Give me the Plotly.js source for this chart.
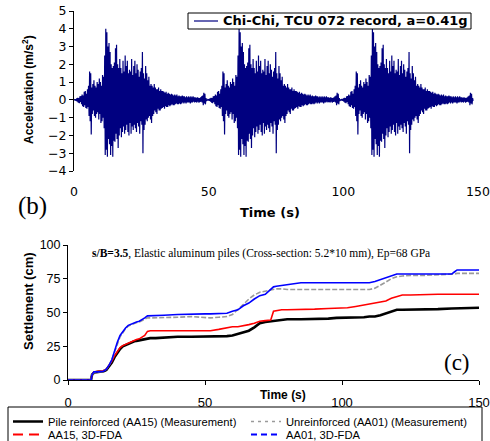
<!DOCTYPE html>
<html>
<head>
<meta charset="utf-8">
<script src="https://cdn.plot.ly/plotly-3.0.1.min.js"></script>
<style>html,body{margin:0;padding:0;background:#fff;overflow:hidden;}#wrap{width:490px;height:441px;overflow:hidden;position:relative;}#chart{width:490px;height:462px;}</style>
</head>
<body>
<div id="wrap"><div id="chart"></div></div>
<script>
// ---------- (b) acceleration record (one shaking event, sampled every 0.2 s) ----------
const recordDt = 0.2;
const eventStarts = [0, 49.5, 99];
const accelRecord = [
  0, 0.02, -0.03, 0.04, -0.05,
  0.08, -0.1, 0.12, -0.15, 0.1, -0.18, 0.2, -0.12, 0.22, -0.25,
  0.3, -0.35, 0.25, -0.4, 0.45, -0.3, 0.5, -0.45, 0.35, -0.5, 0.6, -0.4,
  0.8, -0.9, 1.6, -1.2, 1.5, -1.95, 0.7,
  -0.8, 0.9, -0.6, 1.1, -0.9, 0.8, -1.0, 0.7, -0.8, 1.0, -0.7,
  0.9, -1.1, 1.2, -0.8, 1.0, -1.3, 0.8, -1.2, 1.4, -1.0, 1.3, -1.6,
  2.5, -3.1, 4.0, -2.8, 3.8, -3.2, 3.0, -2.2,
  3.2, -2.5, 2.7, -3.1, 2.0, -2.6, 1.8, -3.2, 1.9, -2.3,
  2.1, -2.35, 2.9, -1.9, 3.1, -2.2, 2.0, -2.7, 1.8, -2.0,
  2.3, -1.6, 1.8, -2.1, 1.5, -1.8, 2.2, -1.5, 1.6, -1.9,
  2.5, -1.7, 1.9, -1.4, 2.2, -1.8, 1.5, -2.0, 1.7, -1.3,
  1.6, -1.9, 2.3, -1.5, 1.4, -1.7, 1.9, -1.4, 2.2, -1.6,
  1.5, -1.8, 2.0, -1.3, 1.7, -1.5, 1.3, -1.9, 1.6, -1.2,
  1.8, -1.4, 2.7, -3.0, 1.5, -1.7, 1.2, -1.4, 1.9, -1.1,
  1.5, -1.2, 1.1, -1.0, 1.3, -0.9, 0.8, -1.1, 0.9, -1.3,
  0.8, -0.9, 0.7, -0.8, 0.9, -0.6, 0.7, -0.7, 0.6, -0.8,
  0.6, -0.5, 0.7, -0.6, 0.5, -0.6, 0.6, -0.5, 0.5, -0.45,
  0.5, -0.4, 0.45, -0.5, 0.4, -0.35, 0.45, -0.4, 0.35, -0.4,
  0.4, -0.3, 0.35, -0.35, 0.3, -0.3, 0.35, -0.25, 0.3, -0.3,
  0.25, -0.3, 0.3, -0.25, 0.25, -0.2, 0.3, -0.25, 0.2, -0.25,
  0.25, -0.2, 0.2, -0.25, 0.2, -0.2, 0.25, -0.15, 0.2, -0.2,
  0.2, -0.15, 0.15, -0.2, 0.2, -0.15, 0.15, -0.15, 0.2, -0.15,
  0.15, -0.2, 0.2, -0.15, 0.15, -0.15, 0.2, -0.1, 0.15, -0.15,
  0.15, -0.12, 0.12, -0.15, 0.15, -0.1, 0.12, -0.15, 0.1, -0.12,
  0.15, -0.1, 0.2, -0.15, 0.25, -0.3, 0.4, -0.2, 0.35, -0.25,
  0.1, -0.05
];
const accelLabel = "Chi-Chi, TCU 072 record, a=0.41g";

// ---------- (c) settlement histories ----------
const settleTime = [0, 8.4, 8.8, 9.5, 11, 13, 14, 15, 16, 17, 18, 19, 20, 21, 22, 23, 24, 25, 26, 27, 28, 29, 30, 32, 35, 40, 45, 50, 52, 55, 57, 58, 60, 62, 64, 66, 68, 70, 72, 74, 75, 76, 78, 80, 85, 90, 95, 98, 100, 102, 105, 108, 110, 112, 114, 116, 118, 120, 122, 125, 130, 135, 140, 141, 142, 145, 150];
const aa15Meas = [0, 0, 4, 5.5, 6, 6.5, 7.5, 10, 13, 17, 20, 23, 25, 26, 27, 28, 28.5, 29, 29.5, 30, 30.5, 31, 31, 31, 31.5, 32, 32, 32, 32, 32.5, 32, 32.5, 33, 34, 35, 36.5, 39, 42, 43, 43.5, 44, 44, 44.5, 45, 45, 45, 45.5, 46, 46, 46, 46.5, 46.5, 47, 47, 48, 49.5, 51, 52, 52, 52, 52, 52.5, 53, 53, 53, 53, 53.5];
const aa15Fda  = [0, 0, 4, 6, 6.5, 7, 8, 11, 14, 18, 21, 24, 25.5, 26.5, 27.5, 28.5, 29, 30, 30.5, 31.5, 33, 36, 36.5, 36.5, 36.5, 36.5, 36.5, 36.5, 36.5, 37.5, 38.5, 39, 39.5, 39.5, 40, 41, 42, 43.5, 44, 44.5, 51, 51.5, 52, 52, 52, 52.5, 53, 53, 53, 53.5, 54.5, 55.5, 56, 57, 57.5, 58.5, 60.5, 62, 63, 63, 63.5, 63.5, 63.5, 63.5, 63.5, 63.5, 63.5];
const aa01Meas = [0, 0, 4, 5.5, 6, 6.5, 8, 11, 15, 21, 27, 32, 35, 38, 40, 41, 42, 42.5, 43, 44, 45.5, 46, 46, 46, 46, 46.5, 47, 46.5, 46, 46.5, 47, 47, 48.5, 52, 56, 60, 63, 65, 66, 67, 67, 67.5, 67.5, 67, 67, 67, 67, 67, 67, 67, 67, 67, 67, 68, 70, 72.5, 75, 76.5, 77, 77.5, 77.5, 78, 78, 78.5, 79, 79, 79];
const aa01Fda  = [0, 0, 4, 6, 6, 6.5, 8, 11, 15, 22, 28, 33, 36, 38.5, 40.5, 41.5, 42.5, 43, 43.5, 44.5, 46, 47.5, 47.5, 47.5, 48, 48.5, 49, 49, 49, 49, 49, 49.5, 51, 52, 55, 57, 60, 62.5, 63.5, 67, 69, 69.5, 70, 71, 72, 72, 72, 72, 72, 72, 72, 72, 72, 73, 74.5, 76, 77.5, 78.5, 78.5, 78.5, 78.5, 78.5, 78.5, 80, 81.5, 81.5, 81.5];
const settleNames = [
  "Pile reinforced (AA15) (Measurement)",
  "Unreinforced (AA01) (Measurement)",
  "AA15, 3D-FDA",
  "AA01, 3D-FDA"
];
const timeTicks = [0, 50, 100, 150];
const accelTicks = [-4, -3, -2, -1, 0, 1, 2, 3, 4, 5];
const settleTicks = [0, 25, 50, 75, 100];

// build the acceleration trace from the record and the event starts
const accX = [], accY = [];
eventStarts.forEach(s => {
  accelRecord.forEach((v, i) => { accX.push(s + i * recordDt); accY.push(v); });
});

const W = 490, HP = 462;   // drawing is taller than the 441 px window; the legend box runs off the bottom like the reference
const px = x => x / W;
const py = y => 1 - y / HP;
const SANS = "Liberation Sans, Arial, sans-serif";
const WIDE = "DejaVu Sans, sans-serif";
const SERIF = "Liberation Serif, Times New Roman, serif";
const NAVY = '#000080';

const traces = [
  {x: accX, y: accY, xaxis: 'x', yaxis: 'y', type: 'scatter', mode: 'lines',
   line: {color: NAVY, width: 1.2}, name: accelLabel, showlegend: false},
  // settlement curves (solid as drawn in the plot)
  {x: settleTime, y: aa15Meas, xaxis: 'x2', yaxis: 'y2', mode: 'lines', line: {color: '#000', width: 2.6}, showlegend: false},
  {x: settleTime, y: aa15Fda, xaxis: 'x2', yaxis: 'y2', mode: 'lines', line: {color: '#ff0000', width: 1.6}, showlegend: false},
  {x: settleTime, y: aa01Meas, xaxis: 'x2', yaxis: 'y2', mode: 'lines', line: {color: '#9a9a9a', width: 1.6, dash: '5px,2px'}, showlegend: false},
  {x: settleTime, y: aa01Fda, xaxis: 'x2', yaxis: 'y2', mode: 'lines', line: {color: '#0000ff', width: 1.6}, showlegend: false},
  // legend entries (two rows, one legend per row)
  {x: [null], y: [null], xaxis: 'x2', yaxis: 'y2', mode: 'lines', name: settleNames[0], legend: 'legend', line: {color: '#000', width: 2.5}},
  {x: [null], y: [null], xaxis: 'x2', yaxis: 'y2', mode: 'lines', name: settleNames[1], legend: 'legend', line: {color: '#9a9a9a', width: 1.5, dash: '3px,4px'}},
  {x: [null], y: [null], xaxis: 'x2', yaxis: 'y2', mode: 'lines', name: settleNames[2], legend: 'legend2', line: {color: '#ff0000', width: 2, dash: '10px,6px'}},
  {x: [null], y: [null], xaxis: 'x2', yaxis: 'y2', mode: 'lines', name: settleNames[3], legend: 'legend2', line: {color: '#0000ff', width: 2, dash: '6px,4px'}}
];

const ann = (text, x, y, opts) => Object.assign({text, x: px(x), y: py(y), xref: 'paper', yref: 'paper',
  xanchor: 'center', yanchor: 'middle', showarrow: false}, opts);

const legendRow = top => ({x: px(8), y: py(top), xanchor: 'left', yanchor: 'top', orientation: 'h',
  entrywidth: 193, entrywidthmode: 'pixels', borderwidth: 0,
  bgcolor: 'rgba(0,0,0,0)', font: {family: SANS, size: 11.2}, tracegroupgap: 0});

const layout = {
  width: W, height: HP,
  margin: {l: 0, r: 0, t: 0, b: 0, autoexpand: false},
  paper_bgcolor: '#fff', plot_bgcolor: '#fff',
  font: {family: SANS, color: '#000', size: 12},
  showlegend: true,
  xaxis: {domain: [px(74), px(478)], anchor: 'y', range: [0, 150], tickvals: timeTicks,
    showgrid: false, zeroline: false, showline: false, ticks: '', ticklabelstandoff: 11,
    tickfont: {family: WIDE, size: 12.5}},
  yaxis: {domain: [py(171), py(11)], anchor: 'x', range: [-4, 5], tickvals: accelTicks,
    showgrid: false, zeroline: false, showline: true, linecolor: '#000', linewidth: 1,
    ticks: 'outside', ticklen: 4, tickcolor: '#000', tickfont: {family: WIDE, size: 12.5}},
  xaxis2: {domain: [px(68), px(479)], anchor: 'y2', range: [0, 150], tickvals: timeTicks,
    showgrid: false, zeroline: false, showline: true, linecolor: '#000', linewidth: 1,
    ticks: 'outside', ticklen: 4, tickcolor: '#000', ticklabelstandoff: 6, tickfont: {family: SANS, size: 13}},
  yaxis2: {domain: [py(380), py(245)], anchor: 'x2', range: [0, 100], tickvals: settleTicks,
    showgrid: false, zeroline: false, showline: true, linecolor: '#000', linewidth: 1,
    ticks: 'outside', ticklen: 4, tickcolor: '#000', tickfont: {family: SANS, size: 12.5}},
  legend: legendRow(407),
  legend2: legendRow(420),
  shapes: [
    // frame of the panel (c) key, running off the bottom edge
    {type: 'rect', xref: 'paper', yref: 'paper', x0: px(8), x1: px(482), y0: py(458), y1: py(407),
     line: {color: '#000', width: 1}, fillcolor: 'rgba(0,0,0,0)', layer: 'above'},
    // frame and sample line of the panel (b) key
    {type: 'rect', xref: 'paper', yref: 'paper', x0: px(188), x1: px(471), y0: py(29), y1: py(13),
     line: {color: '#000', width: 1}, fillcolor: '#fff', layer: 'above'},
    {type: 'line', xref: 'paper', yref: 'paper', x0: px(194), x1: px(218), y0: py(21), y1: py(21),
     line: {color: NAVY, width: 1.2}, layer: 'above'}
  ],
  annotations: [
    ann('<b>' + accelLabel + '</b>', 221, 21, {xanchor: 'left', font: {family: WIDE, size: 13}}),
    ann('<b>Acceleration (m/s<sup>2</sup>)</b>', 28, 90, {textangle: -90, font: {family: SANS, size: 12}}),
    ann('<b>Time (s)</b>', 270, 212, {font: {family: WIDE, size: 13}}),
    ann('(b)', 32, 206, {font: {family: SERIF, size: 25}}),
    ann('<b>s/B=3.5</b>, Elastic aluminum piles (Cross-section: 5.2*10 mm), Ep=68 GPa', 90, 253,
      {xanchor: 'left', font: {family: SERIF, size: 11.5}}),
    ann('(c)', 457, 362, {font: {family: SERIF, size: 23}}),
    ann('<b>Time (s)</b>', 283, 395, {font: {family: SANS, size: 12}}),
    ann('<b>Settlement (cm)</b>', 28, 301, {textangle: -90, font: {family: SANS, size: 13}})
  ]
};

Plotly.newPlot('chart', traces, layout, {staticPlot: true, displayModeBar: false});
</script>
</body>
</html>
